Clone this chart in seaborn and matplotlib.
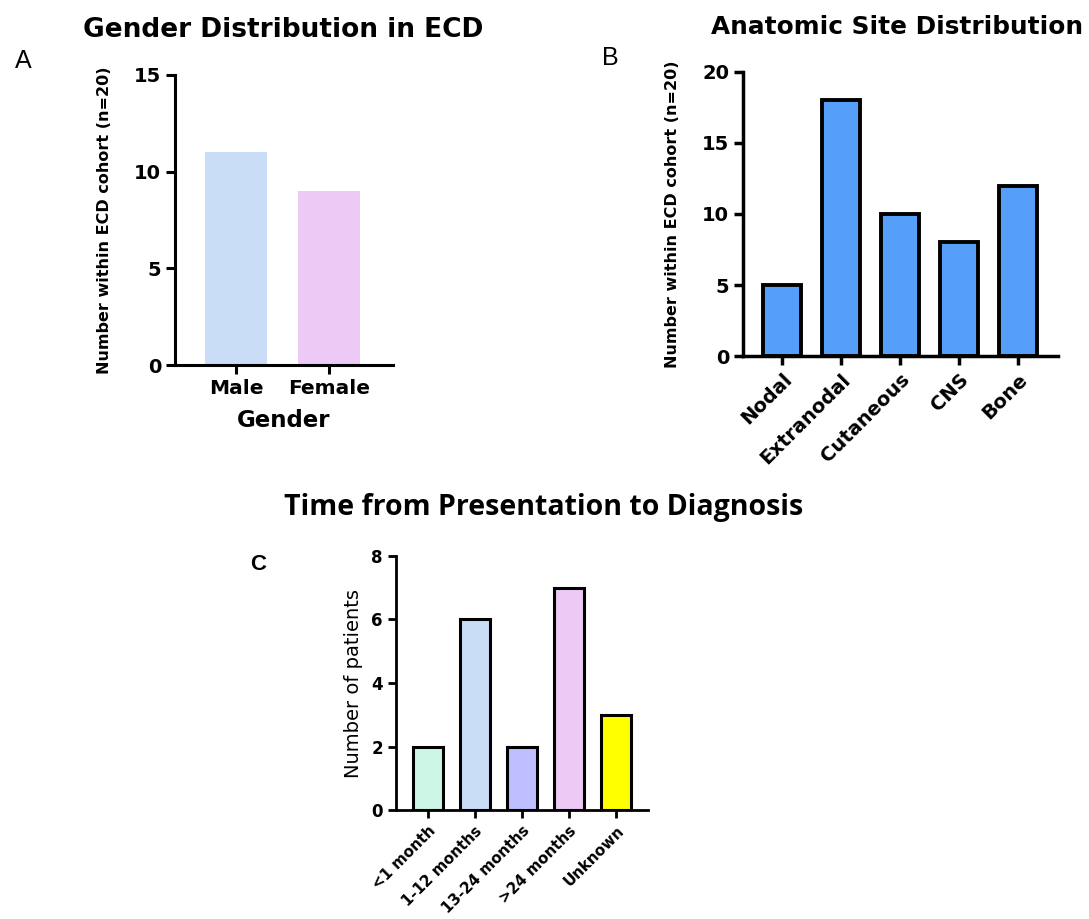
import matplotlib
matplotlib.use("Agg")
import matplotlib.pyplot as plt
import seaborn as sns
import pandas as pd

# ---- data ----
gender_cats = ["Male", "Female"]
gender_vals = [11, 9]
gender_colors = ["#C9DDF7", "#EDC9F5"]

site_cats = ["Nodal", "Extranodal", "Cutaneous", "CNS", "Bone"]
site_vals = [5, 18, 10, 8, 12]
site_color = "#559FF8"

time_cats = ["<1 month", "1-12 months", "13-24 months", ">24 months", "Unknown"]
time_vals = [2, 6, 2, 7, 3]
time_colors = ["#CCF5E6", "#C9DDF7", "#BFBFFF", "#EDC9F5", "#FFFF00"]

sns.set_theme(style="ticks")
plt.rcParams['font.family'] = ['DejaVu Sans']
plt.rcParams['text.color'] = 'black'
plt.rcParams['axes.labelcolor'] = 'black'
plt.rcParams['xtick.color'] = 'black'
plt.rcParams['ytick.color'] = 'black'

fig = plt.figure(figsize=(10.89, 9.19), dpi=100)

def style_axes(ax, lw, ticklen):
    sns.despine(ax=ax)
    for s in ["left", "bottom"]:
        ax.spines[s].set_linewidth(lw)
        ax.spines[s].set_color("black")
    ax.tick_params(axis="both", width=lw, length=ticklen, color="black", direction="out")

# ---- Panel A ----
axA = fig.add_axes([0.1607, 0.6028, 0.2002, 0.3156])
dfA = pd.DataFrame({"Gender": gender_cats, "n": gender_vals})
sns.barplot(data=dfA, x="Gender", y="n", hue="Gender", palette=gender_colors, saturation=1,
            legend=False, width=0.67, ax=axA, linewidth=0)
axA.set_xlim(-0.656, 1.688)
axA.set_ylim(0, 15)
axA.set_yticks([0, 5, 10, 15])
style_axes(axA, 2.2, 6.5)
axA.set_ylabel("Number within ECD cohort (n=20)", fontsize=11.5, fontweight="bold", labelpad=16)
axA.set_xlabel("Gender", fontsize=16.5, fontweight="bold", labelpad=8)
for lab in axA.get_xticklabels():
    lab.set_fontsize(14.5); lab.set_fontweight("bold")
for lab in axA.get_yticklabels():
    lab.set_fontsize(14); lab.set_fontweight("bold")
fig.text(283/1089, 1 - 30/919, "Gender Distribution in ECD", ha="center", va="center",
         fontsize=19, fontweight="bold")
fig.text(23/1089, 1 - 61/919, "A", ha="center", va="center", fontsize=18,
         family=["Liberation Sans"])

# ---- Panel B ----
axB = fig.add_axes([0.6823, 0.6126, 0.2893, 0.3091])
dfB = pd.DataFrame({"Site": site_cats, "n": site_vals})
sns.barplot(data=dfB, x="Site", y="n", color=site_color, saturation=1,
            width=0.64, ax=axB, edgecolor="black", linewidth=2.8)
axB.set_xlim(-0.66, 4.68)
axB.set_ylim(0, 20)
axB.set_yticks([0, 5, 10, 15, 20])
style_axes(axB, 2.5, 6.5)
axB.set_ylabel("Number within ECD cohort (n=20)", fontsize=11.5, fontweight="bold", labelpad=16)
axB.set_xlabel("")
axB.set_xticks(range(len(site_cats)))
axB.set_xticklabels(site_cats, rotation=45, ha="right", rotation_mode="anchor",
                    fontsize=14, fontweight="bold")
for lab in axB.get_yticklabels():
    lab.set_fontsize(14); lab.set_fontweight("bold")
fig.text(1083/1089, 1 - 27/919, "Anatomic Site Distribution", ha="right", va="center",
         fontsize=17.8, fontweight="bold")
fig.text(610/1089, 1 - 58/919, "B", ha="center", va="center", fontsize=18,
         family=["Liberation Sans"])

# ---- Panel C ----
axC = fig.add_axes([0.3636, 0.1186, 0.2314, 0.2764])
dfC = pd.DataFrame({"Time": time_cats, "n": time_vals})
sns.barplot(data=dfC, x="Time", y="n", hue="Time", palette=time_colors, saturation=1,
            legend=False, width=0.64, ax=axC, edgecolor="black", linewidth=2.2)
axC.set_xlim(-0.68, 4.68)
axC.set_ylim(0, 8)
axC.set_yticks([0, 2, 4, 6, 8])
style_axes(axC, 2.0, 6)
axC.set_ylabel("Number of patients", fontsize=14, labelpad=6)
axC.set_xlabel("")
axC.set_xticks(range(len(time_cats)))
axC.set_xticklabels(time_cats, rotation=45, ha="right", rotation_mode="anchor",
                    fontsize=10.8, fontweight="bold")
for lab in axC.get_yticklabels():
    lab.set_fontsize(12); lab.set_fontweight("bold")
fig.text(544/1089, 1 - 508/919, "Time from Presentation to Diagnosis", ha="center", va="center",
         fontsize=20.5, fontweight="bold", family=["Open Sans", "DejaVu Sans"])
fig.text(258/1089, 1 - 565/919, "C", ha="center", va="center", fontsize=16, fontweight="bold",
         family=["Liberation Sans"])

fig.savefig("out.png", dpi=100, facecolor="white")
